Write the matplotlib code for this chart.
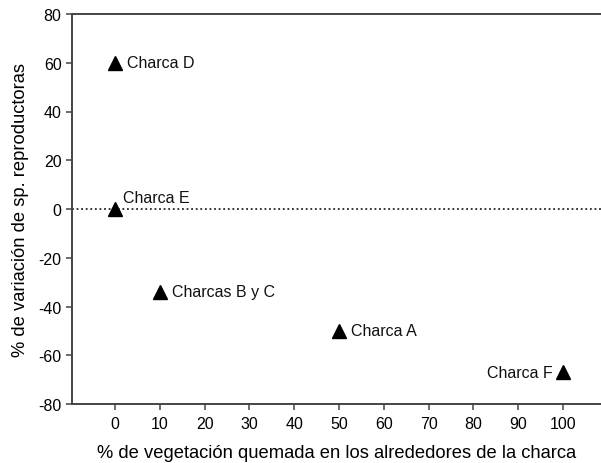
import matplotlib

matplotlib.use("Agg")
import matplotlib.pyplot as plt

plt.rcParams["font.family"] = ["Liberation Sans", "DejaVu Sans"]
plt.rcParams["axes.unicode_minus"] = False

# burned vegetation (%) vs change in breeding species (%)
charcas = ["Charca D", "Charca E", "Charcas B y C", "Charca A", "Charca F"]
quemada = [0, 0, 10, 50, 100]
variacion = [60, 0, -34, -50, -67]
# label offsets in points (dx, dy) and horizontal alignment
label_offsets = [(8.5, 0), (6, 8), (9, 0), (9, 0), (-7, 0)]
label_ha = ["left", "left", "left", "left", "right"]

fig = plt.figure(figsize=(6.01, 4.64), dpi=100)
ax = fig.add_axes([72 / 601, 59 / 464, 529 / 601, 390 / 464])

ax.axhline(0, color="black", lw=1.1, ls=(0, (1.2, 1.8)), zorder=1)
ax.plot(quemada, variacion, "^", color="black", markersize=9.5, zorder=3,
        clip_on=False)

for name, x, y, (dx, dy), ha in zip(charcas, quemada, variacion,
                                    label_offsets, label_ha):
    ax.annotate(name, (x, y), xytext=(dx, dy), textcoords="offset points",
                ha=ha, va="center", fontsize=11.5, color="#111111")

ax.set_xlim(-9.6, 108.5)
ax.set_ylim(-80, 80)
ax.set_xticks(range(0, 101, 10))
ax.set_yticks(range(-80, 81, 20))

ax.spines["right"].set_visible(False)
for side in ("left", "bottom", "top"):
    ax.spines[side].set_color("#444444")
    ax.spines[side].set_linewidth(1.4)

ax.tick_params(direction="out", length=4, width=1.1, color="#444444",
               labelsize=11.5, pad=3.5)
ax.tick_params(axis="x", pad=5)
ax.set_xlabel("% de vegetación quemada en los alrededores de la charca",
              fontsize=13.2, labelpad=9)
ax.set_ylabel("% de variación de sp. reproductoras", fontsize=13.2,
              labelpad=7)

fig.savefig("out.png", dpi=100)
plt.close(fig)
